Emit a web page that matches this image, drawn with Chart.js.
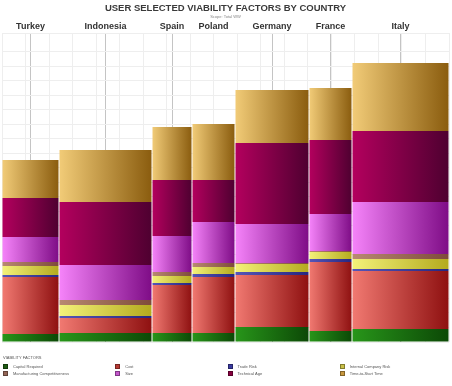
<!DOCTYPE html>
<html>
<head>
<meta charset="utf-8">
<script src="https://cdn.jsdelivr.net/npm/chart.js@4"></script>
<style>
  body { margin: 0; background: #fff; }
  #wrap { position: relative; width: 452px; height: 386px; }
  #legend { position: absolute; left: 3px; top: 355px; width: 449px; font-family: "Liberation Sans", Arial, sans-serif; font-size: 4px; color: #555; }
  #legend .ttl { height: 8px; line-height: 6px; }
  #legend .row { display: flex; height: 7px; }
  #legend .item { width: 113px; display: flex; align-items: center; }
  #legend .sw { width: 5px; height: 5px; margin-right: 5px; box-sizing: border-box; border: 1px solid rgba(0,0,0,0.35); }
</style>
</head>
<body>
<div id="wrap">
  <canvas id="myChart" width="452" height="386"></canvas>
  <div id="legend"></div>
</div>
<script>
// countries and the width of each column
const countries = ['Turkey', 'Indonesia', 'Spain', 'Poland', 'Germany', 'France', 'Italy'];
const widths = [57, 93, 40, 43, 74, 43, 97];

// viability factors, bottom to top
const factors = ['Capital Required', 'Cost', 'Trade Risk', 'Internal Company Risk',
  'Manufacturing Competitiveness', 'Size', 'Technical Age', 'Time-to-Start Time'];

const capitalRequired = [8, 9, 9, 9, 15, 11, 13];
const cost = [57, 15, 48, 56, 52, 69, 58];
const tradeRisk = [2, 2, 2, 3, 3, 3, 2];
const internalRisk = [9, 11, 7, 7, 8, 7, 10];
const manufacturing = [4, 5, 4, 4, 1, 1, 5];
const size = [25, 35, 36, 41, 39, 37, 52];
const technicalAge = [39, 63, 56, 42, 81, 74, 71];
const timeToStart = [38, 52, 53, 56, 53, 52, 68];

const series = [capitalRequired, cost, tradeRisk, internalRisk, manufacturing, size, technicalAge, timeToStart];

// light -> dark gradient stops for each factor
const lightColors = ['#28961a', '#f27a72', '#5656b8', '#f4f27a', '#b98a72', '#f684fa', '#b4005e', '#f2cc78'];
const darkColors = ['#0c4806', '#8e1010', '#262680', '#b4aa1e', '#7e4a3a', '#7e0c86', '#4e0030', '#8a5c0e'];
const swatchColors = ['#1d5a12', '#b83a34', '#3a3aa0', '#cac048', '#946656', '#c456cc', '#880040', '#c8983e'];

// cumulative start / end of each column
const starts = [];
const ends = [];
let acc = 0;
widths.forEach(w => { starts.push(acc); acc += w; ends.push(acc); });
const total = acc;
const centers = starts.map((s, i) => s + widths[i] / 2);

function colPixels(chart, i) {
  const xs = chart.scales.x;
  return [xs.getPixelForValue(starts[i]), xs.getPixelForValue(ends[i])];
}

const datasets = factors.map((name, d) => ({
  label: name,
  data: series[d].map((v, i) => ({ x: centers[i], y: v })),
  backgroundColor: ctx => {
    const chart = ctx.chart;
    if (!chart.chartArea || ctx.dataIndex === undefined) return lightColors[d];
    const [l, r] = colPixels(chart, ctx.dataIndex);
    const g = chart.ctx.createLinearGradient(l, 0, r, 0);
    g.addColorStop(0, lightColors[d]);
    g.addColorStop(1, darkColors[d]);
    return g;
  },
  borderWidth: 0
}));

// give each column its own width
const mekko = {
  id: 'mekko',
  afterDatasetsUpdate(chart) {
    chart.data.datasets.forEach((ds, d) => {
      chart.getDatasetMeta(d).data.forEach((bar, i) => {
        const [l, r] = colPixels(chart, i);
        bar.x = (l + r) / 2;
        bar.width = r - l - 1;
      });
    });
  }
};

const chartConfig = {
  type: 'bar',
  data: { datasets },
  plugins: [mekko],
  options: {
    responsive: false,
    animation: false,
    layout: { padding: { left: 2, right: 3, top: 0, bottom: 44 } },
    plugins: {
      legend: { display: false },
      tooltip: { enabled: false },
      title: {
        display: true,
        text: 'USER SELECTED VIABILITY FACTORS BY COUNTRY',
        color: '#3a3a3a',
        font: { family: '"Liberation Sans", Arial, sans-serif', size: 9.5, weight: 'bold' },
        padding: { top: 3, bottom: 0 }
      },
      subtitle: {
        display: true,
        text: 'Scope: Total WW',
        color: '#888',
        font: { family: '"Liberation Sans", Arial, sans-serif', size: 4 },
        padding: { top: 0, bottom: 1 }
      }
    },
    scales: {
      x: {
        type: 'linear',
        position: 'top',
        min: 0,
        max: total,
        offset: false,
        stacked: true,
        afterBuildTicks: axis => { axis.ticks = centers.map(v => ({ value: v })); },
        ticks: {
          autoSkip: false,
          maxRotation: 0,
          padding: 1,
          color: '#333',
          font: { family: '"Liberation Sans", Arial, sans-serif', size: 9, weight: 'bold' },
          callback: v => countries[centers.indexOf(v)]
        },
        grid: { color: '#c4c4c4', drawTicks: false, offset: false },
        border: { display: false }
      },
      xg: {
        type: 'linear',
        position: 'bottom',
        min: 0,
        max: 19,
        offset: false,
        ticks: { display: false, stepSize: 1 },
        grid: { color: '#eeeeee', drawTicks: false, offset: false },
        border: { display: false }
      },
      y: {
        stacked: true,
        min: 0,
        max: 309,
        ticks: { display: false, stepSize: 14.51 },
        grid: { color: '#eeeeee', drawTicks: false },
        border: { display: false }
      }
    }
  }
};

const myChart = new Chart(document.getElementById('myChart'), chartConfig);

// legend in four columns, two rows
const legend = document.getElementById('legend');
let html = '<div class="ttl">VIABILITY FACTORS</div>';
for (let r = 0; r < 2; r++) {
  html += '<div class="row">';
  for (let c = 0; c < 4; c++) {
    const k = r * 4 + c;
    html += '<div class="item"><span class="sw" style="background:' + swatchColors[k] + '"></span>' + factors[k] + '</div>';
  }
  html += '</div>';
}
legend.innerHTML = html;
</script>
</body>
</html>
